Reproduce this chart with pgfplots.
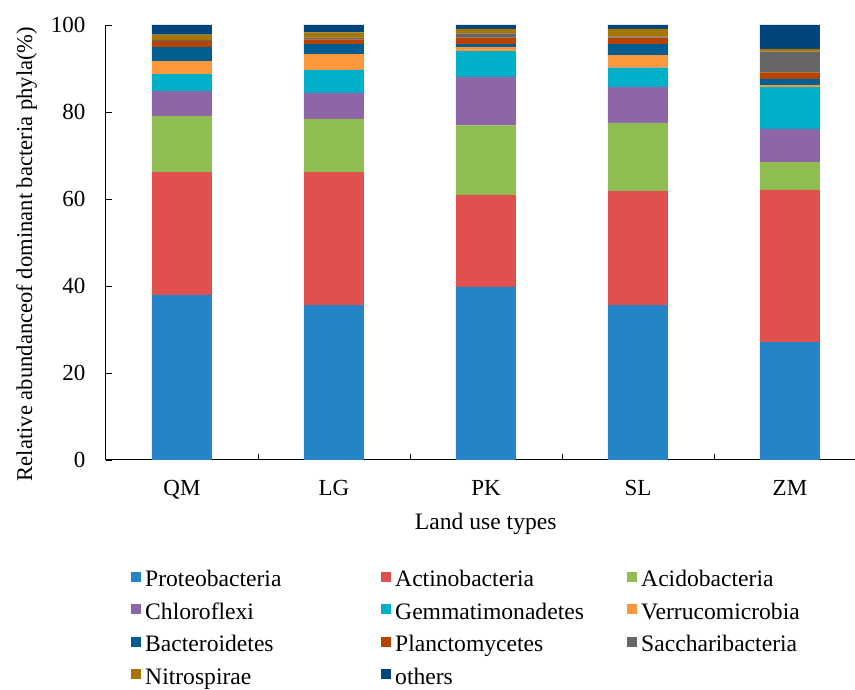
\documentclass[border=0pt]{standalone}
\usepackage{pgfplots}
\pgfplotsset{compat=1.18}
\usepackage{pgfplotstable}
\usepackage{fontspec}
\setmainfont{Liberation Serif}
\newcommand{\fs}{\fontsize{23}{27}\selectfont}
\newcommand{\fl}{\fontsize{23.6}{28}\selectfont}
\newcommand{\fy}{\fontsize{22.6}{27}\selectfont}
\definecolor{cProteo}{RGB}{37,132,197}
\definecolor{cActino}{RGB}{223,80,78}
\definecolor{cAcido}{RGB}{143,189,82}
\definecolor{cChloro}{RGB}{140,102,166}
\definecolor{cGemma}{RGB}{0,175,200}
\definecolor{cVerr}{RGB}{252,151,60}
\definecolor{cBact}{RGB}{2,93,145}
\definecolor{cPlancto}{RGB}{183,67,0}
\definecolor{cSacc}{RGB}{102,102,102}
\definecolor{cNitro}{RGB}{166,118,0}
\definecolor{cOthers}{RGB}{2,68,124}
\pgfplotstableread{
x Proteo Actino Acido Chloro Gemma Verr Bact Plancto Sacc Nitro others
0 37.9 28.3 12.9 5.7 3.9 3.0 3.2 1.4 0.3 1.2 2.2
1 35.6 30.6 12.2 6.0 5.3 3.6 2.3 1.1 0.4 1.2 1.7
2 39.8 21.1 16.0 11.2 5.9 0.9 0.7 1.5 1.0 1.0 0.9
3 35.6 26.2 15.7 8.2 4.5 2.9 2.5 1.5 0.3 1.7 0.9
4 27.1 35.0 6.4 7.6 9.6 0.5 1.4 1.5 4.8 0.6 5.5
}\data
\newcommand{\lentA}[1]{\makebox[236pt][l]{#1}}
\newcommand{\lentB}[1]{\makebox[232pt][l]{#1}}
\begin{document}
\begin{tikzpicture}
\useasboundingbox (-106pt,-230pt) rectangle (749pt,460pt);
\begin{axis}[
  at={(0pt,0pt)}, anchor=south west,
  scale only axis, width=749pt, height=435pt,
  ybar stacked, bar width=60pt,
  xmin=-0.5, xmax=4.428, ymin=0, ymax=100,
  axis lines=left, axis line style={-, black, line width=1pt},
  tick align=inside,
  xtick={0,1,2,3,4}, xticklabels={QM,LG,PK,SL,ZM},
  major x tick style={draw=none},
  minor xtick={0.5,1.5,2.5,3.5},
  minor tick length=6pt, major tick length=6pt,
  tick style={black, line width=0.8pt},
  ytick={0,20,40,60,80,100},
  /pgf/number format/assume math mode=true,
  tick label style={font=\fs},
  xticklabel style={yshift=-17pt},
  yticklabel style={xshift=-17pt},
  xlabel={Land use types},
  ylabel={Relative abundanceof dominant bacteria phyla(\%)},
  xlabel style={font=\fl, at={(axis description cs:0.507,-0.147)}, anchor=center},
  ylabel style={font=\fy, at={(axis description cs:-0.106,0.4736)}, anchor=center},
  legend columns=3,
  legend cell align=left,
  legend style={at={(axis description cs:0.0334,-0.2543)}, anchor=north west,
    draw=none, font=\fl, inner sep=0pt, row sep=10.4pt,
    nodes={inner xsep=0pt, inner ysep=0pt, text height=16pt, text depth=6pt},
    /tikz/every odd column/.append style={column sep=4pt}},
  legend image code/.code={\fill[#1] (0pt,0pt) rectangle (10pt,10pt);},
]
\addplot[fill=cProteo, draw=none] table[x=x,y=Proteo]{\data};
\addplot[fill=cActino, draw=none] table[x=x,y=Actino]{\data};
\addplot[fill=cAcido, draw=none] table[x=x,y=Acido]{\data};
\addplot[fill=cChloro, draw=none] table[x=x,y=Chloro]{\data};
\addplot[fill=cGemma, draw=none] table[x=x,y=Gemma]{\data};
\addplot[fill=cVerr, draw=none] table[x=x,y=Verr]{\data};
\addplot[fill=cBact, draw=none] table[x=x,y=Bact]{\data};
\addplot[fill=cPlancto, draw=none] table[x=x,y=Plancto]{\data};
\addplot[fill=cSacc, draw=none] table[x=x,y=Sacc]{\data};
\addplot[fill=cNitro, draw=none] table[x=x,y=Nitro]{\data};
\addplot[fill=cOthers, draw=none] table[x=x,y=others]{\data};
\addlegendentry{\lentA{Proteobacteria}}
\addlegendentry{\lentB{Actinobacteria}}
\addlegendentry{\lentB{Acidobacteria}}
\addlegendentry{\lentA{Chloroflexi}}
\addlegendentry{\lentB{Gemmatimonadetes}}
\addlegendentry{\lentB{Verrucomicrobia}}
\addlegendentry{\lentA{Bacteroidetes}}
\addlegendentry{\lentB{Planctomycetes}}
\addlegendentry{\lentB{Saccharibacteria}}
\addlegendentry{\lentA{Nitrospirae}}
\addlegendentry{\lentB{others}}
\end{axis}
\end{tikzpicture}
\end{document}
